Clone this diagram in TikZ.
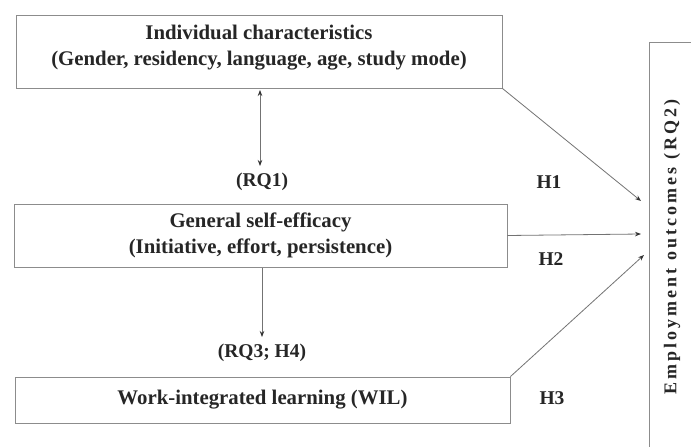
\documentclass[tikz,border=0pt]{standalone}
\usepackage{fontspec}
\setmainfont{Liberation Serif}
\usetikzlibrary{arrows.meta}
\begin{document}
\begin{tikzpicture}[x=1pt,y=-1pt,
  box/.style={draw=black!45,line width=0.9pt,inner sep=0pt,align=center,text=black!85,
    font=\fontsize{20.8}{26}\selectfont\bfseries},
  lbl/.style={text=black!85,font=\fontsize{19.5}{21}\selectfont\bfseries,inner sep=0pt},
  arr/.style={draw=black!55,line width=0.8pt,-{Stealth[length=6pt,width=4.5pt,black!80]}},
  darr/.style={draw=black!55,line width=0.8pt,{Stealth[length=6pt,width=4.5pt,black!80]}-{Stealth[length=6pt,width=4.5pt,black!80]}}]
\useasboundingbox (0,0) rectangle (691,447);
\clip (0,0) rectangle (691,447);
\fill[white] (0,0) rectangle (691,447);
\node[box,minimum width=486pt,minimum height=73pt] (ic) at (259,51.5) {};
\node[box,draw=none,minimum width=0pt,minimum height=0pt] (ictext) at (259,47.5)
  {Individual characteristics\\(Gender, residency, language, age, study mode)};
\node[box,minimum width=493pt,minimum height=63pt] (gse) at (260.5,235.5)
  {General self-efficacy\\(Initiative, effort, persistence)};
\node[box,minimum width=495pt,minimum height=46pt] (wil) at (262.5,400)
  {Work-integrated learning (WIL)};
\node[draw=black!45,line width=0.9pt,minimum width=52pt,minimum height=420pt] (eo) at (675,252) {};
\node[rotate=90,text=black!85,font=\fontsize{18}{20}\selectfont\bfseries\addfontfeature{LetterSpace=17}] (eot) at (672,247) {Employment outcomes (RQ2)};
\coordinate (t1) at (641,201);
\coordinate (t2) at (641,234);
\coordinate (t3) at (644,255);
\coordinate (rq1top) at (260,90);
\coordinate (rq1bot) at (260,166);
\coordinate (rq3top) at (262,268);
\coordinate (rq3bot) at (262,337);
\node[lbl] (rq1) at (262,182) {(RQ1)};
\node[lbl] (rq3) at (262,353) {(RQ3; H4)};
\node[lbl] (h1) at (549,182) {H1};
\node[lbl] (h2) at (551,259) {H2};
\node[lbl] (h3) at (552,398) {H3};
\draw[darr] (rq1top) -- (rq1bot);
\draw[arr] (rq3top) -- (rq3bot);
\draw[arr] (ic.south east) -- (t1);
\draw[arr] (gse.east) -- (t2);
\draw[arr] (wil.north east) -- (t3);
\end{tikzpicture}
\end{document}
